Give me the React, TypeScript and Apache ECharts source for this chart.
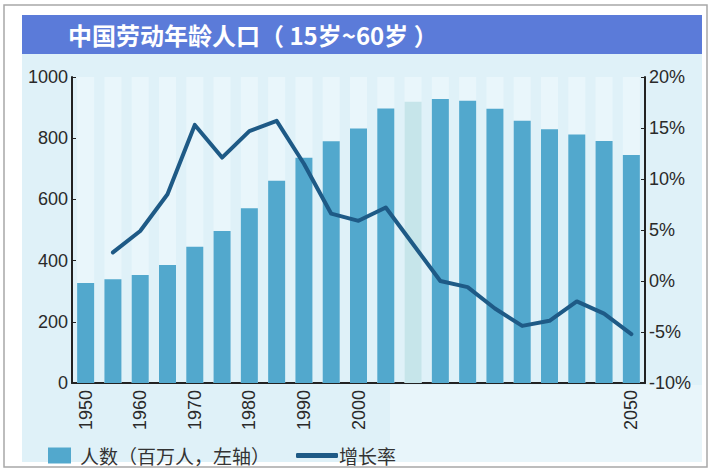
import React, { useEffect, useRef } from "react";
import * as echarts from "echarts";

const years = ["1950","1955","1960","1965","1970","1975","1980","1985","1990","1995","2000","2005","2010","2015","2020","2025","2030","2035","2040","2045","2050"];
const workers = [327, 339, 353, 386, 445, 497, 571, 661, 736, 790, 832, 897, 919, 928, 922, 896, 857, 829, 812, 791, 745];
const growth = [null, 2.8, 4.9, 8.5, 15.3, 12.1, 14.7, 15.7, 11.5, 6.6, 5.9, 7.2, 3.6, 0.0, -0.6, -2.7, -4.4, -3.9, -2.0, -3.2, -5.2];
const shownYears = ["1950","1960","1970","1980","1990","2000","2050"];
const highlightYear = "2010";

const title = "中国劳动年龄人口（ 15岁~60岁 ）";
const barName = "人数（百万人，左轴）";
const lineName = "增长率";

const FONT = "'Liberation Sans', 'Noto Sans CJK SC', sans-serif";
const CJK = "'Noto Sans CJK SC', 'Liberation Sans', sans-serif";

export default function App() {
  const ref = useRef<HTMLDivElement>(null);
  useEffect(() => {
    if (!ref.current) return;
    const chart = echarts.init(ref.current, null, { renderer: "svg" });
    const barColor = "#52a8cd";
    const lineColor = "#1e5a86";
    const labelStyle = { fontFamily: FONT, fontSize: 18, color: "#2a2a2a", fontWeight: 500 };
    chart.setOption({
      animation: false,
      backgroundColor: "#ffffff",
      graphic: [
        { type: "rect", z: -10, shape: { x: 4, y: 5, width: 703, height: 462 }, style: { fill: "#ffffff", stroke: "#a8a8a8", lineWidth: 1.5 } },
        { type: "rect", z: -9, shape: { x: 22, y: 54, width: 680, height: 408 }, style: { fill: "#dff1f8" } },
        { type: "rect", z: -8, shape: { x: 390, y: 385, width: 312, height: 77 }, style: { fill: "#e8f5fa" } },
        { type: "rect", z: 5, shape: { x: 22, y: 15, width: 680, height: 39 }, style: { fill: "#5b7bd9" } },
        { type: "text", z: 6, x: 68, y: 34, style: { text: title, fill: "#ffffff", font: `bold 24px ${CJK}`, textVerticalAlign: "middle" } },
      ],
      grid: { left: 72, right: 67, top: 77, bottom: 90 },
      legend: [
        {
          data: [barName],
          left: 43, top: 441,
          itemWidth: 23, itemHeight: 16, icon: "rect",
          textStyle: { fontFamily: CJK, fontSize: 19, color: "#333", padding: [0, 0, 0, 4] },
        },
        {
          data: [{ name: lineName, icon: "roundRect", itemStyle: { color: lineColor } }],
          left: 291, top: 441,
          itemWidth: 42, itemHeight: 5,
          textStyle: { fontFamily: CJK, fontSize: 19, color: "#333", padding: [0, 0, 0, -4] },
        },
      ],
      xAxis: {
        type: "category",
        data: years,
        boundaryGap: true,
        axisLine: { lineStyle: { color: "#222", width: 2 } },
        axisTick: { inside: true, length: 4, lineStyle: { color: "#444" } },
        axisLabel: {
          ...labelStyle,
          rotate: 90,
          margin: 7,
          interval: (i: number, v: string) => shownYears.includes(v),
        },
      },
      yAxis: [
        {
          type: "value", min: 0, max: 1000, interval: 200,
          axisLine: { show: true, lineStyle: { color: "#222", width: 2 } },
          axisTick: { show: true, inside: true, length: 4, lineStyle: { color: "#222" } },
          axisLabel: { ...labelStyle, margin: 4, formatter: (v: number) => String(v) },
          splitLine: { show: false },
        },
        {
          type: "value", min: -10, max: 20, interval: 5, position: "right",
          axisLine: { show: true, lineStyle: { color: "#222", width: 2 } },
          axisTick: { show: true, inside: true, length: 4, lineStyle: { color: "#222" } },
          axisLabel: { ...labelStyle, margin: 4, formatter: (v: number) => `${v}%` },
          splitLine: { show: false },
        },
      ],
      series: [
        {
          name: barName,
          type: "bar",
          barWidth: 17,
          showBackground: true,
          backgroundStyle: { color: "#e9f6fb" },
          itemStyle: { color: barColor },
          data: workers.map((v, i) =>
            years[i] === highlightYear ? { value: v, itemStyle: { color: "#c6e5ea" } } : v
          ),
        },
        {
          name: lineName,
          type: "line",
          yAxisIndex: 1,
          showSymbol: false,
          symbol: "none",
          connectNulls: false,
          lineStyle: { color: lineColor, width: 4, join: "round", cap: "round" },
          itemStyle: { color: lineColor },
          data: growth,
          z: 4,
        },
      ],
    });
    return () => chart.dispose();
  }, []);
  return <div ref={ref} style={{ width: 712, height: 473, position: "absolute", left: 0, top: 0 }} />;
}
